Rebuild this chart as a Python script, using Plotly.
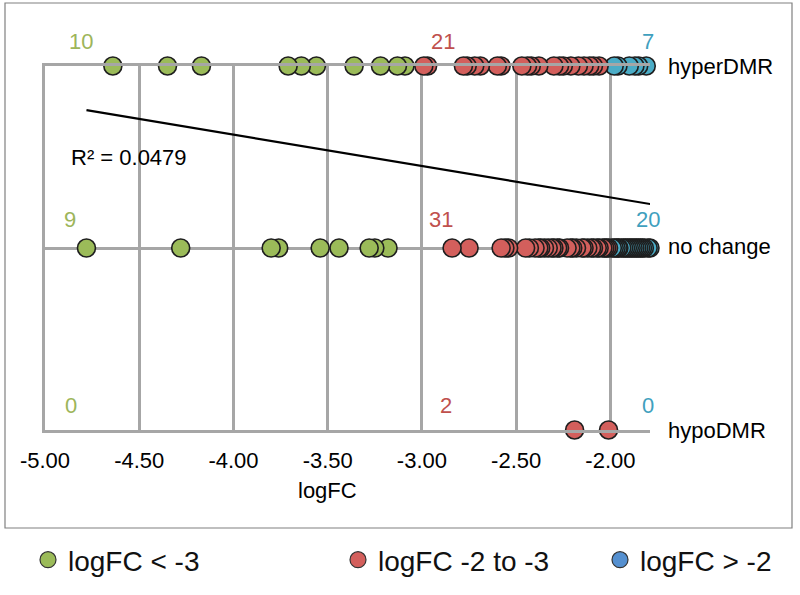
import numpy as np
import plotly.graph_objects as go

# ---- data (logFC values per DMR status and logFC class) ----
row_names = ["hyperDMR", "no change", "hypoDMR"]
row_values = [1, 0, -1]

green_hyper = [-4.64, -4.35, -4.17, -3.71, -3.64, -3.56, -3.36, -3.22, -3.13, -3.09]
red_hyper = [-2.99, -2.97, -2.78, -2.76, -2.72, -2.69, -2.60, -2.58, -2.47, -2.44, -2.42,
             -2.38, -2.30, -2.27, -2.25, -2.21, -2.17, -2.14, -2.11, -2.09, -2.06]
blue_hyper = [-1.98, -1.96, -1.90, -1.87, -1.85, -1.81, -1.78]

green_none = [-4.78, -4.28, -3.80, -3.76, -3.54, -3.44, -3.28, -3.25, -3.18]
red_none = [-2.84, -2.75, -2.58, -2.56, -2.54, -2.45, -2.43, -2.40, -2.38, -2.37, -2.35,
            -2.33, -2.31, -2.30, -2.28, -2.27, -2.23, -2.21, -2.20, -2.18, -2.15, -2.14,
            -2.12, -2.10, -2.09, -2.07, -2.06, -2.04, -2.03, -2.02, -2.01]
blue_none = [-1.99, -1.98, -1.97, -1.96, -1.955, -1.94, -1.93, -1.92, -1.91, -1.90,
             -1.89, -1.88, -1.87, -1.86, -1.85, -1.84, -1.83, -1.82, -1.80, -1.79]

green_hypo = []
red_hypo = [-2.19, -2.01]
blue_hypo = []

series_names = ["logFC < -3", "logFC -2 to -3", "logFC > -2"]
tick_vals = [-5.0, -4.5, -4.0, -3.5, -3.0, -2.5, -2.0]
tick_text = ["-5.00", "-4.50", "-4.00", "-3.50", "-3.00", "-2.50", "-2.00"]
r2_text = "R² = 0.0479"

# ---- styles ----
FONT = "Liberation Sans, Arial, sans-serif"
GREEN = "#9BBB59"
RED = "#D35F5C"
BLUE = "#4BACC6"
LEG_BLUE = "#5590D0"
LBL_GREEN = "#9DB55A"
LBL_RED = "#C0504D"
LBL_BLUE = "#3FA0BE"
GRID = "#A6A6A6"
TXT = 22

groups = {
    "blue": ([blue_hyper, blue_none, blue_hypo], BLUE),
    "red": ([red_hyper, red_none, red_hypo], RED),
    "green": ([green_hyper, green_none, green_hypo], GREEN),
}

fig = go.Figure()

# data points: blue drawn first, then red, then green; rightmost first within each
for key in ["blue", "red", "green"]:
    rows, color = groups[key]
    xs, ys = [], []
    for vals, yv in zip(rows, row_values):
        for v in sorted(vals, reverse=True):
            xs.append(v)
            ys.append(yv)
    fig.add_trace(go.Scatter(
        x=xs, y=ys, mode="markers", showlegend=False, cliponaxis=False,
        marker=dict(size=18, color=color, line=dict(color="#1E1E1E", width=1.6)),
        hoverinfo="x+y",
    ))

# linear trendline over all points
all_x, all_y = [], []
for key in groups:
    rows, _ = groups[key]
    for vals, yv in zip(rows, row_values):
        all_x += list(vals)
        all_y += [yv] * len(vals)
all_x = np.array(all_x)
all_y = np.array(all_y, dtype=float)
slope, intercept = np.polyfit(all_x, all_y, 1)
tx = np.array([all_x.min(), all_x.max()])
fig.add_trace(go.Scatter(x=tx, y=slope * tx + intercept, mode="lines", showlegend=False,
                         line=dict(color="#000000", width=2.2), hoverinfo="skip"))

# legend-only traces (three separate legends for placement)
leg_colors = [GREEN, RED, LEG_BLUE]
leg_ids = ["legend", "legend2", "legend3"]
for name, col, lid in zip(series_names, leg_colors, leg_ids):
    fig.add_trace(go.Scatter(x=[None], y=[None], mode="markers", name=name, legend=lid,
                             marker=dict(size=18, color=col, line=dict(color="#333333", width=1.2))))

leg_common = dict(orientation="h", xref="container", yref="container", yanchor="middle",
                  y=(595 - 560) / 595, font=dict(family=FONT, size=28, color="#111111"),
                  bgcolor="rgba(0,0,0,0)", itemsizing="trace")

# count labels above each row
lbl_x = {"green": [-4.81, -4.87, -4.86], "red": [-2.89, -2.90, -2.87], "blue": [-1.80, -1.80, -1.80]}
lbl_col = {"green": LBL_GREEN, "red": LBL_RED, "blue": LBL_BLUE}
lbl_shift = [25, 29, 25]
annotations = []
for key in ["green", "red", "blue"]:
    rows, _ = groups[key]
    for i, (vals, yv) in enumerate(zip(rows, row_values)):
        annotations.append(dict(x=lbl_x[key][i], y=yv, xref="x", yref="y", text=str(len(vals)),
                                showarrow=False, yshift=lbl_shift[i], xanchor="center",
                                yanchor="middle",
                                font=dict(family=FONT, size=TXT, color=lbl_col[key])))

# row names on the right
for name, yv, ys in zip(row_names, row_values, [0, 2, 0]):
    annotations.append(dict(x=1, y=yv, xref="paper", yref="y", text=name, showarrow=False,
                            xanchor="left", xshift=16, yshift=ys, yanchor="middle",
                            font=dict(family=FONT, size=TXT, color="#000000")))

# R² label
annotations.append(dict(x=-4.875, y=0.5, xref="x", yref="y", text=r2_text, showarrow=False,
                        xanchor="left", yanchor="middle",
                        font=dict(family=FONT, size=TXT, color="#000000")))
# axis title
annotations.append(dict(x=-3.5, y=0, xref="x", yref="paper", text="logFC", showarrow=False,
                        xanchor="center", yanchor="middle", yshift=-60,
                        font=dict(family=FONT, size=TXT, color="#000000")))

fig.update_layout(
    width=800, height=595,
    margin=dict(l=45, r=150, t=66, b=165),
    paper_bgcolor="white", plot_bgcolor="white",
    font=dict(family=FONT, size=TXT, color="#000000"),
    xaxis=dict(range=[-5, -1.79], tickvals=tick_vals, ticktext=tick_text,
               showgrid=True, gridcolor=GRID, gridwidth=2.5,
               showline=True, mirror=True, linecolor=GRID, linewidth=2.5,
               zeroline=False, ticks="", ticklabelstandoff=9,
               tickfont=dict(family=FONT, size=TXT, color="#000000")),
    yaxis=dict(range=[-1, 1], tickvals=row_values, showticklabels=False,
               showgrid=True, gridcolor=GRID, gridwidth=2.5,
               showline=True, linecolor=GRID, linewidth=2.5,
               zeroline=False, ticks=""),
    legend=dict(x=28 / 800, **leg_common),
    legend2=dict(x=338 / 800, **leg_common),
    legend3=dict(x=600 / 800, **leg_common),
    annotations=annotations,
    shapes=[dict(type="rect", xref="paper", yref="paper",
                 x0=(5 - 45) / 605, x1=(792 - 45) / 605,
                 y0=(430 - 528) / 364, y1=(430 - 3) / 364,
                 line=dict(color="#808080", width=1.2), layer="below")],
)

fig.write_html("out.html", config={"displayModeBar": False},
               post_script="document.body.style.margin='0';")
